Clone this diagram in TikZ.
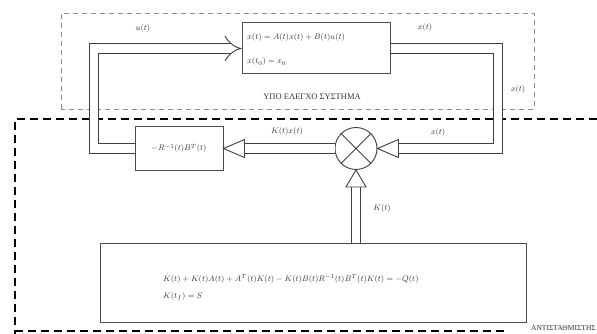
\documentclass[tikz,border=0pt]{standalone}
\usepackage{fontspec}
\setmainfont{Liberation Serif}
\usetikzlibrary{arrows.meta,calc}
\tikzset{
  blk/.style={draw=black!70, line width=1pt, fill=white, inner sep=0pt},
  dbl/.style={draw=black!75, line width=0.9pt, double=white, double distance=8.5pt},
  tri/.style={draw=black!75, line width=0.9pt, fill=white, line join=miter},
  lbl/.style={font=\fontsize{8.5}{9}\selectfont, text=black!80, inner sep=0pt},
  eqn/.style={font=\footnotesize, text=black!80, inner sep=0pt, anchor=base west},
  upbox/.style={draw=black!45, line width=0.8pt, dash pattern=on 5pt off 4pt},
  lowbox/.style={draw=black, line width=1.2pt, dash pattern=on 8pt off 5pt},
}
\begin{document}
\begin{tikzpicture}[x=1pt,y=-1pt]
\useasboundingbox (0,0) rectangle (597,334);
% regions
\draw[upbox] (61,109) -- (61,13) -- (534,13) -- (534,109) -- cycle;
\draw[lowbox] (597,119) -- (15,119) -- (15,334);
\draw[lowbox] (15,331) -- (505,331);
\node[lbl, font=\fontsize{8.5}{9}\selectfont] (plantlbl) at (312,97) {ΥΠΟ ΕΛΕΓΧΟ ΣΥΣΤΗΜΑ};
\node[lbl, font=\fontsize{7.5}{8}\selectfont, fill=white, inner sep=1pt, anchor=east] (ctllbl) at (597,328) {ΑΝΤΙΣΤΑΘΜΙΣΤΗΣ};
% blocks
\node[blk, minimum width=148pt, minimum height=51pt] (plant) at (316,48.5) {};
\node[eqn] (pe1) at (247,40) {$\dot{x}(t) = A(t)x(t) + B(t)u(t)$};
\node[eqn] (pe2) at (247,64) {$x(t_0) = x_0$};
\node[blk, minimum width=88pt, minimum height=43pt, font=\footnotesize, text=black!80] (gain) at (179,148.5) {$-R^{-1}(t)B^{T}(t)$};
\node[circle, draw=black!75, line width=0.9pt, minimum size=42pt, fill=white, inner sep=0pt] (sum) at (356,148.5) {};
\draw[black!75, line width=0.9pt] (sum.north west) -- (sum.south east) (sum.north east) -- (sum.south west);
\node[blk, minimum width=426pt, minimum height=79pt] (ric) at (313,282.5) {};
\node[eqn] (re1) at (163,281) {$\dot{K}(t) + K(t)A(t) + A^{T}(t)K(t) - K(t)B(t)R^{-1}(t)B^{T}(t)K(t) = -Q(t)$};
\node[eqn] (re2) at (163,298) {$K(t_f) = S$};
% connectors
\coordinate (lc) at (94,0);
\coordinate (rc) at (498,0);
\draw[dbl, -{Implies}] (gain.west) -| (lc |- plant.west) -- (plant.west);
\draw[dbl] (plant.east) -| (rc |- sum.east) -- ($(sum.east)+(21,0)$);
\draw[tri] (sum.east) -- ++(21,-9) -- ++(0,18) -- cycle;
\draw[dbl] (sum.west) -- ($(gain.east)+(21,0)$);
\draw[tri] (gain.east) -- ++(21,-9) -- ++(0,18) -- cycle;
\draw[dbl] (ric.north -| sum) -- ($(sum.south)+(0,17)$);
\draw[tri] (sum.south) -- ++(-10,17) -- ++(20,0) -- cycle;
% labels
\node[lbl] (lu) at (143,29) {$u(t)$};
\node[lbl] (lx1) at (425,28) {$x(t)$};
\node[lbl] (lx2) at (518,90) {$x(t)$};
\node[lbl] (lx3) at (438,133) {$x(t)$};
\node[lbl] (lkx) at (287,132) {$K(t)x(t)$};
\node[lbl] (lk) at (382,208) {$K(t)$};
\end{tikzpicture}
\end{document}
